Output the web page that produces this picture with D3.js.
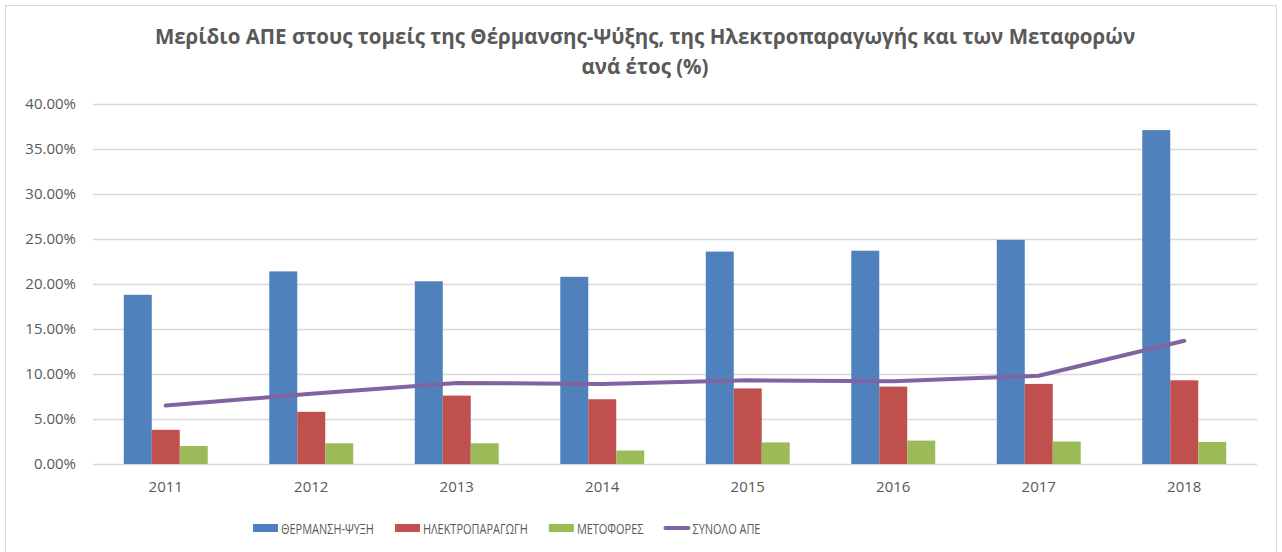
<!DOCTYPE html>
<html>
<head>
<meta charset="utf-8">
<script src="https://cdn.jsdelivr.net/npm/d3@7"></script>
<style>
  body { margin: 0; background: #ffffff; }
  svg text { font-family: "Open Sans", "Noto Sans", sans-serif; fill: #595959; }
</style>
</head>
<body>
<div id="chart"></div>
<script>
// Chart values.
var years = ["2011", "2012", "2013", "2014", "2015", "2016", "2017", "2018"];
var seriesNames = ["ΘΕΡΜΑΝΣΗ-ΨΥΞΗ", "ΗΛΕΚΤΡΟΠΑΡΑΓΩΓΗ", "ΜΕΤΟΦΟΡΕΣ"];
var heating = [18.8, 21.4, 20.3, 20.8, 23.6, 23.7, 24.9, 37.1];
var electricity = [3.8, 5.8, 7.6, 7.2, 8.4, 8.6, 8.9, 9.3];
var transport = [2.0, 2.3, 2.3, 1.5, 2.4, 2.6, 2.5, 2.45];
var lineName = "ΣΥΝΟΛΟ ΑΠΕ";
var totalRes = [6.5, 7.8, 9.0, 8.9, 9.3, 9.2, 9.8, 13.7];
var yTicks = [0, 5, 10, 15, 20, 25, 30, 35, 40];
var titleLines = ["Μερίδιο ΑΠΕ στους τομείς της Θέρμανσης-Ψύξης, της Ηλεκτροπαραγωγής και των Μεταφορών",
                  "ανά έτος (%)"];

var W = 1282, H = 552;
var colors = ["#4F81BD", "#C0504D", "#9BBB59"];
var lineColor = "#8064A2";
var margin = {left: 93, right: 25, top: 104, bottom: 88};

var svg = d3.select("#chart").append("svg")
    .attr("width", W)
    .attr("height", H);

// outer frame of the chart area
svg.append("rect")
    .attr("x", 5.5).attr("y", 5.5)
    .attr("width", 1271).attr("height", 560)
    .attr("fill", "#ffffff")
    .attr("stroke", "#d9d9d9");

// title
svg.selectAll(".title").data(titleLines).enter().append("text")
    .attr("class", "title")
    .attr("x", 645)
    .attr("y", function(d, i){ return 44 + i * 30; })
    .attr("text-anchor", "middle")
    .style("font-size", "20.5px")
    .style("font-weight", "bold")
    .text(function(d){ return d; });

var x0 = d3.scaleBand()
    .domain(years)
    .range([margin.left, W - margin.right])
    .paddingInner(0.423)
    .paddingOuter(0.2115);

var x1 = d3.scaleBand()
    .domain(seriesNames)
    .range([0, x0.bandwidth()]);

var y = d3.scaleLinear()
    .domain([0, 40])
    .range([H - margin.bottom, margin.top]);

// gridlines and y labels
var yAxis = d3.axisLeft(y)
    .tickValues(yTicks)
    .tickSize(-(W - margin.right - margin.left))
    .tickPadding(17)
    .tickFormat(function(d){ return d3.format(".2f")(d) + "%"; });

var gy = svg.append("g")
    .attr("transform", "translate(" + margin.left + ",0)")
    .call(yAxis);
gy.select(".domain").remove();
gy.selectAll(".tick line").attr("stroke", "#d9d9d9").attr("stroke-width", 1.3);
gy.selectAll(".tick text").style("font-size", "15px").attr("fill", "#595959");

// bars
var seriesData = [heating, electricity, transport];
var groups = svg.selectAll(".series").data(seriesData).enter().append("g")
    .attr("class", "series")
    .attr("fill", function(d, i){ return colors[i]; });

groups.each(function(vals, si){
    d3.select(this).selectAll("rect").data(vals).enter().append("rect")
        .attr("x", function(d, i){ return x0(years[i]) + x1(seriesNames[si]); })
        .attr("y", function(d){ return y(d); })
        .attr("width", x1.bandwidth())
        .attr("height", function(d){ return y(0) - y(d); });
});

// total line
var line = d3.line()
    .x(function(d, i){ return x0(years[i]) + x0.bandwidth() / 2; })
    .y(function(d){ return y(d); });

svg.append("path")
    .datum(totalRes)
    .attr("d", line)
    .attr("fill", "none")
    .attr("stroke", lineColor)
    .attr("stroke-width", 4)
    .attr("stroke-linecap", "round")
    .attr("stroke-linejoin", "round");

// x labels
var xAxis = d3.axisBottom(x0).tickSize(0).tickPadding(17);
var gx = svg.append("g")
    .attr("transform", "translate(0," + y(0) + ")")
    .call(xAxis);
gx.select(".domain").remove();
gx.selectAll(".tick text").style("font-size", "15px").attr("fill", "#595959");

// legend (text squeezed horizontally, the original uses a narrow font)
var squeeze = 0.73;
var legendItems = seriesNames.concat([lineName]);
var legend = svg.append("g").attr("class", "legend");
var lx = 253, ly = 528;
legendItems.forEach(function(name, i){
    var item = legend.append("g").attr("transform", "translate(" + lx + "," + ly + ")");
    if (i < 3){
        item.append("rect")
            .attr("x", 0).attr("y", -4)
            .attr("width", 25).attr("height", 8)
            .attr("fill", colors[i]);
    } else {
        item.append("line")
            .attr("x1", 1).attr("x2", 24)
            .attr("y1", 0).attr("y2", 0)
            .attr("stroke", lineColor)
            .attr("stroke-width", 4)
            .attr("stroke-linecap", "round");
    }
    var t = item.append("text")
        .attr("transform", "translate(28,5.5) scale(" + squeeze + ",1)")
        .style("font-size", "15px")
        .text(name);
    lx += 28 + t.node().getComputedTextLength() * squeeze + 21;
});
</script>
</body>
</html>
